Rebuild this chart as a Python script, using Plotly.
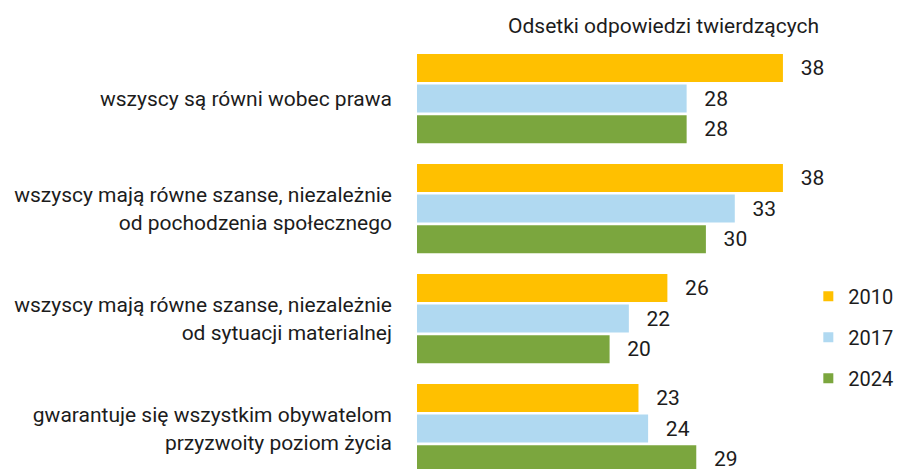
import plotly.graph_objects as go

categories = [
    "wszyscy są równi wobec prawa",
    "wszyscy mają równe szanse, niezależnie<br>od pochodzenia społecznego",
    "wszyscy mają równe szanse, niezależnie<br>od sytuacji materialnej",
    "gwarantuje się wszystkim obywatelom<br>przyzwoity poziom życia",
]
years = ["2010", "2017", "2024"]
values_2010 = [38, 38, 26, 23]
values_2017 = [28, 33, 22, 24]
values_2024 = [28, 30, 20, 29]
colors = ["#FFC000", "#B0D9F1", "#7BA63E"]
title_text = "Odsetki odpowiedzi twierdzących"

FONT = "Roboto, 'Open Sans', sans-serif"
TXT = "#1c1c1c"
FS = 21
pos = list(range(len(categories)))
series = [values_2010, values_2017, values_2024]

fig = go.Figure()
for name, vals, col in zip(years, series, colors):
    fig.add_trace(go.Bar(
        y=pos, x=vals, orientation="h", name=name,
        marker=dict(color=col, line=dict(width=0)),
        text=["\u00a0\u00a0\u2009" + str(v) for v in vals],
        textposition="outside", cliponaxis=False,
        textfont=dict(family=FONT, size=FS, color=TXT),
        showlegend=False,
    ))
for name, col in zip(years, colors):
    fig.add_trace(go.Scatter(
        x=[None], y=[None], mode="markers", name=name,
        marker=dict(symbol="square", size=10, color=col),
        legendgroup=name, showlegend=True,
    ))

# page body has an 8px margin, so the figure is 8px smaller and shifted
fig.update_layout(
    width=900, height=461,
    margin=dict(l=409, r=0, t=32, b=0, autoexpand=False),
    paper_bgcolor="white", plot_bgcolor="white",
    barmode="group", bargap=0.165, bargroupgap=0.085,
    font=dict(family=FONT, size=FS, color=TXT),
    xaxis=dict(range=[0, 491 / 9.63], visible=False, automargin=False),
    yaxis=dict(
        range=[3.368, -0.532], tickmode="array", tickvals=pos,
        ticktext=categories, showgrid=False, zeroline=False,
        showline=False, ticks="", ticklabelstandoff=24, automargin=False,
        tickfont=dict(family=FONT, size=FS, color=TXT),
    ),
    legend=dict(
        x=0.797, y=0.448, xanchor="left", yanchor="top",
        font=dict(family=FONT, size=20, color=TXT),
        itemwidth=30, tracegroupgap=12, bgcolor="rgba(0,0,0,0)",
    ),
    annotations=[dict(
        text=title_text, xref="paper", yref="paper",
        x=0.503, y=1 + 14 / 429, xanchor="center", yanchor="middle",
        showarrow=False, font=dict(family=FONT, size=FS, color=TXT),
    )],
)

fig.write_html("out.html", default_width="900px", default_height="461px")
